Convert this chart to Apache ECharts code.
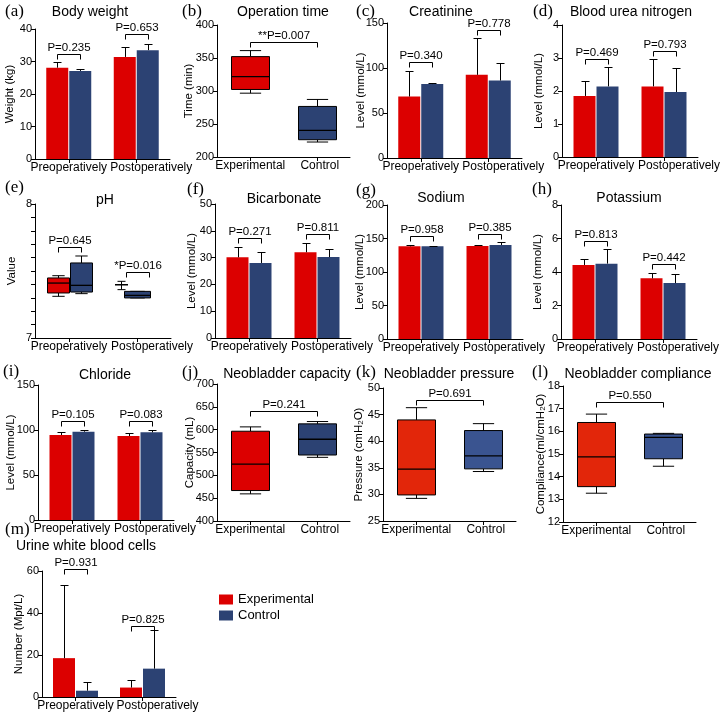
<!DOCTYPE html>
<html><head><meta charset="utf-8">
<script src="https://cdn.jsdelivr.net/npm/echarts@6/dist/echarts.min.js"></script>
<style>html,body{margin:0;padding:0;background:#fff}#c{width:722px;height:718px}</style>
</head><body><div id="c"></div>
<script>
// ---------- DATA ----------
const prePost = ['Preoperatively', 'Postoperatively'];
const groups = ['Experimental', 'Control'];
const legendNames = ['Experimental', 'Control'];

// (a) Body weight
const weightExpMean = [28.1, 31.4], weightExpSD = [1.8, 3.1];
const weightCtrlMean = [27.1, 33.5], weightCtrlSD = [0.5, 2.0];
const weightP = ['P=0.235', 'P=0.653'], weightBracket = [32.4, 38.4];
const weightTicks = [0, 40, 10];

// (b) Operation time  [min, Q1, median, Q3, max]
const opExpBox = [296.7, 302.3, 321.9, 352.1, 361.2];
const opCtrlBox = [222.7, 226.2, 240.3, 276.6, 287.2];
const opP = ['**P=0.007'], opBracket = [374.8];
const opTicks = [200, 400, 50];

// (c) Creatinine
const creaExpMean = [68.3, 92.4], creaExpSD = [28.2, 40.5];
const creaCtrlMean = [82.1, 86.1], creaCtrlSD = [1.4, 19.3];
const creaP = ['P=0.340', 'P=0.778'], creaBracket = [106.2, 141.8];
const creaTicks = [0, 150, 50];

// (d) Blood urea nitrogen
const bunExpMean = [1.85, 2.14], bunExpSD = [0.44, 0.82];
const bunCtrlMean = [2.14, 1.97], bunCtrlSD = [0.58, 0.72];
const bunP = ['P=0.469', 'P=0.793'], bunBracket = [2.96, 3.22];
const bunTicks = [0, 4, 1];

// (e) pH boxes [min, Q1, median, Q3, max] per period
const phExpBoxes = [[7.311, 7.336, 7.41, 7.448, 7.465], [7.361, 7.398, 7.398, 7.398, 7.423]];
const phCtrlBoxes = [[7.331, 7.343, 7.393, 7.56, 7.612], [7.299, 7.299, 7.318, 7.348, 7.348]];
const phP = ['P=0.645', '*P=0.016'], phBracket = [7.677, 7.493];
const phTicks = [7, 8, 0.1];

// (f) Bicarbonate
const bicExpMean = [30.1, 32.0], bicExpSD = [3.7, 3.4];
const bicCtrlMean = [28.0, 30.2], bicCtrlSD = [4.1, 3.1];
const bicP = ['P=0.271', 'P=0.811'], bicBracket = [37.3, 38.8];
const bicTicks = [0, 50, 10];

// (g) Sodium
const naExpMean = [138.3, 138.8], naExpSD = [1.5, 1.0];
const naCtrlMean = [138.3, 140.3], naCtrlSD = [1.0, 4.0];
const naP = ['P=0.958', 'P=0.385'], naBracket = [153.7, 156.2];
const naTicks = [0, 200, 50];

// (h) Potassium
const kExpMean = [4.42, 3.62], kExpSD = [0.36, 0.30];
const kCtrlMean = [4.50, 3.34], kCtrlSD = [0.85, 0.52];
const kP = ['P=0.813', 'P=0.442'], kBracket = [5.87, 4.46];
const kTicks = [0, 8, 2];

// (i) Chloride
const clExpMean = [94.4, 93.3], clExpSD = [3.0, 3.0];
const clCtrlMean = [98.1, 97.4], clCtrlSD = [1.9, 2.2];
const clP = ['P=0.105', 'P=0.083'], clBracket = [110, 110];
const clTicks = [0, 150, 50];

// (j) Neobladder capacity
const capExpBox = [459.4, 466.7, 524.7, 596.6, 606.1];
const capCtrlBox = [539.4, 544.5, 579.0, 612.7, 617.8];
const capP = ['P=0.241'], capBracket = [641.3];
const capTicks = [400, 700, 50];

// (k) Neobladder pressure
const presExpBox = [29.25, 29.9, 34.75, 44.0, 46.3];
const presCtrlBox = [34.3, 34.8, 37.25, 42.0, 43.3];
const presP = ['P=0.691'], presBracket = [47.7];
const presTicks = [25, 50, 5];

// (l) Neobladder compliance
const compExpBox = [13.27, 13.56, 14.87, 16.39, 16.76];
const compCtrlBox = [14.46, 14.79, 15.73, 15.88, 15.91];
const compP = ['P=0.550'], compBracket = [17.31];
const compTicks = [12, 18, 1];

// (m) Urine white blood cells
const wbcExpMean = [18.5, 4.5], wbcExpSD = [35, 3.5];
const wbcCtrlMean = [3.0, 13.5], wbcCtrlSD = [4.0, 18.5];
const wbcP = ['P=0.931', 'P=0.825'], wbcBracket = [61, 34];
const wbcTicks = [0, 60, 20];

// ---------- STYLE ----------
const RED = '#dc0000', BLUE = '#2c4273';
const RED2 = '#e2260a', BLUE2 = '#3a5490';
const FONT = '"Liberation Sans", Arial, sans-serif';
const SERIF = '"Liberation Serif", "Times New Roman", serif';
const OFF = 11.5;

const grids = [], xAxes = [], yAxes = [], series = [], graphics = [];

function addAxes(g, cats, ticks, yname, nameGap, fmt, shiftSecond) {
  const i = grids.length;
  grids.push(Object.assign({ outerBoundsMode: 'none', containLabel: false }, g));
  xAxes.push({
    gridIndex: i, type: 'category', data: cats, boundaryGap: true,
    axisLine: { show: true, lineStyle: { color: '#000', width: 1 } },
    axisTick: { show: true, alignWithLabel: true, interval: 0, length: 4, lineStyle: { color: '#000' } },
    axisLabel: { color: '#000', fontSize: 12, fontFamily: FONT, margin: 3, interval: 0,
      formatter: (v, idx) => (idx === 1 && shiftSecond ? '{s|' + v + '}' : v),
      rich: { s: { color: '#000', fontSize: 12, fontFamily: FONT, padding: [0, 0, 0, shiftSecond || 0] } } },
    splitLine: { show: false }
  });
  yAxes.push({
    gridIndex: i, type: 'value', min: ticks[0], max: ticks[1], interval: ticks[2],
    name: yname, nameLocation: 'middle', nameGap: nameGap, nameMoveOverlap: false,
    nameTextStyle: { color: '#000', fontSize: 11.5, fontFamily: FONT,
      rich: { sub: { fontSize: 8, fontFamily: FONT, color: '#000', verticalAlign: 'bottom', padding: [4, 0, 0, 0] } } },
    axisLine: { show: true, lineStyle: { color: '#000', width: 1 } },
    axisTick: { show: true, length: 4, lineStyle: { color: '#000' } },
    axisLabel: { color: '#000', fontSize: 11, fontFamily: FONT, margin: 3, formatter: fmt },
    splitLine: { show: false }
  });
  return i;
}

function errSeries(i, mean, sd, off) {
  return {
    type: 'custom', xAxisIndex: i, yAxisIndex: i, silent: true, z: 3,
    data: mean.map((m, k) => [k, m, m + sd[k]]),
    encode: { x: 0, y: [1, 2] },
    renderItem: (p, api) => {
      const a = api.coord([api.value(0), api.value(1)]);
      const b = api.coord([api.value(0), api.value(2)]);
      const x = Math.round(a[0] + off) + 0.5;
      const yb = Math.round(b[1]) + 0.5;
      return { type: 'group', children: [
        { type: 'line', shape: { x1: x, y1: a[1], x2: x, y2: yb }, style: { stroke: '#000', lineWidth: 1 } },
        { type: 'line', shape: { x1: x - 4, y1: yb, x2: x + 4, y2: yb }, style: { stroke: '#000', lineWidth: 1 } }
      ] };
    }
  };
}

function bracketSeries(i, ys, labels, mode) {
  return {
    type: 'custom', xAxisIndex: i, yAxisIndex: i, silent: true, clip: false, z: 4,
    data: ys.map((y, k) => [k, y]),
    encode: { x: 0, y: 1 },
    renderItem: (p, api) => {
      const k = api.value(0);
      const c = api.coord([k, api.value(1)]);
      let x1, x2;
      if (mode === 'pair') { x1 = c[0] - OFF; x2 = c[0] + OFF; }
      else { x1 = c[0]; x2 = api.coord([k + 1, api.value(1)])[0]; }
      x1 = Math.round(x1) + 0.5; x2 = Math.round(x2) + 0.5;
      const y = Math.round(c[1]) + 0.5;
      return { type: 'group', children: [
        { type: 'polyline', shape: { points: [[x1, y + 5], [x1, y], [x2, y], [x2, y + 5]] },
          style: { stroke: '#000', fill: null, lineWidth: 1 } },
        { type: 'text', x: (x1 + x2) / 2, y: y - 1,
          style: { text: labels[p.dataIndex], fill: '#000', font: '11.5px ' + FONT, align: 'center', verticalAlign: 'bottom' } }
      ] };
    }
  };
}

// offs / widths: per-box pixel offset from the category centre and box width (styling)
function boxSeries(i, name, cats, boxes, offs, widths, color) {
  return {
    type: 'custom', name: name, xAxisIndex: i, yAxisIndex: i, z: 2,
    itemStyle: { color: color },
    data: boxes.map((b, k) => [cats[k]].concat(b)),
    encode: { x: 0, y: [1, 2, 3, 4, 5] },
    renderItem: (p, api) => {
      const c = api.value(0);
      const off = offs[p.dataIndex], w = widths[p.dataIndex];
      const yMin = api.coord([c, api.value(1)])[1];
      const yQ1 = api.coord([c, api.value(2)])[1];
      const yMed = api.coord([c, api.value(3)])[1];
      const yQ3 = api.coord([c, api.value(4)])[1];
      const yMax = api.coord([c, api.value(5)])[1];
      const cx = Math.round(api.coord([c, api.value(3)])[0] + off) + 0.5;
      const hw = w / 2, cw = Math.max(w * 0.28, 4);
      const L = (x1, y1, x2, y2) => ({ type: 'line', shape: { x1, y1, x2, y2 }, style: { stroke: '#000', lineWidth: 1 } });
      return { type: 'group', children: [
        L(cx, yMax, cx, yQ3), L(cx, yQ1, cx, yMin),
        L(cx - cw, yMax, cx + cw, yMax), L(cx - cw, yMin, cx + cw, yMin),
        { type: 'rect', shape: { x: cx - hw, y: yQ3, width: w, height: Math.max(yQ1 - yQ3, 0) },
          style: { fill: color, stroke: '#000', lineWidth: 1 } },
        { type: 'line', shape: { x1: cx - hw, y1: yMed, x2: cx + hw, y2: yMed }, style: { stroke: '#000', lineWidth: 1.3 } }
      ] };
    }
  };
}

function barPanel(g, ticks, yname, gap, expMean, expSD, ctrlMean, ctrlSD, pLab, brY) {
  const i = addAxes(g, prePost, ticks, yname, gap, undefined, 30);
  series.push({ type: 'bar', name: legendNames[0], xAxisIndex: i, yAxisIndex: i, data: expMean,
    barWidth: 22, barGap: '4.5%', itemStyle: { color: RED }, z: 2, silent: true });
  series.push({ type: 'bar', name: legendNames[1], xAxisIndex: i, yAxisIndex: i, data: ctrlMean,
    barWidth: 22, barGap: '4.5%', itemStyle: { color: BLUE }, z: 2, silent: true });
  series.push(errSeries(i, expMean, expSD, -OFF));
  series.push(errSeries(i, ctrlMean, ctrlSD, OFF));
  series.push(bracketSeries(i, brY, pLab, 'pair'));
}

function twoBoxPanel(g, ticks, yname, gap, expBox, ctrlBox, pLab, brY, cr, cb) {
  const i = addAxes(g, groups, ticks, yname, gap, undefined, 6);
  series.push(boxSeries(i, legendNames[0], [0], [expBox], [0], [38], cr));
  series.push(boxSeries(i, legendNames[1], [1], [ctrlBox], [0], [38], cb));
  series.push(bracketSeries(i, brY, pLab, 'span'));
}

// ---------- PANELS ----------
barPanel({ left: 35, top: 29, width: 135, height: 130 }, weightTicks, 'Weight (kg)', 19,
  weightExpMean, weightExpSD, weightCtrlMean, weightCtrlSD, weightP, weightBracket);
twoBoxPanel({ left: 217, top: 25, width: 133, height: 132 }, opTicks, 'Time (min)', 22,
  opExpBox, opCtrlBox, opP, opBracket, RED, BLUE);
barPanel({ left: 387, top: 23, width: 135, height: 135 }, creaTicks, 'Level (mmol/L)', 20,
  creaExpMean, creaExpSD, creaCtrlMean, creaCtrlSD, creaP, creaBracket);
barPanel({ left: 562, top: 25, width: 136, height: 132 }, bunTicks, 'Level (mmol/L)', 17,
  bunExpMean, bunExpSD, bunCtrlMean, bunCtrlSD, bunP, bunBracket);

// (e) pH
(function () {
  const i = addAxes({ left: 35, top: 204, width: 136, height: 134 }, prePost, phTicks, 'Value', 17,
    v => (Math.abs(v - Math.round(v)) < 1e-6 ? String(Math.round(v)) : ''), 30);
  series.push(boxSeries(i, legendNames[0], [0, 1], phExpBoxes, [-OFF, -16], [22, 13], RED));
  series.push(boxSeries(i, legendNames[1], [0, 1], phCtrlBoxes, [OFF, 0], [22, 26], BLUE));
  series.push(bracketSeries(i, phBracket, phP, 'pair'));
})();

barPanel({ left: 215, top: 204, width: 136, height: 134 }, bicTicks, 'Level (mmol/L)', 17,
  bicExpMean, bicExpSD, bicCtrlMean, bicCtrlSD, bicP, bicBracket);
barPanel({ left: 387, top: 205, width: 136, height: 134 }, naTicks, 'Level (mmol/L)', 21,
  naExpMean, naExpSD, naCtrlMean, naCtrlSD, naP, naBracket);
barPanel({ left: 561, top: 205, width: 136, height: 134 }, kTicks, 'Level (mmol/L)', 17,
  kExpMean, kExpSD, kCtrlMean, kCtrlSD, kP, kBracket);
barPanel({ left: 38, top: 385, width: 136, height: 135 }, clTicks, 'Level (mmol/L)', 21,
  clExpMean, clExpSD, clCtrlMean, clCtrlSD, clP, clBracket);
twoBoxPanel({ left: 217, top: 384, width: 133, height: 137 }, capTicks, 'Capacity (mL)', 21,
  capExpBox, capCtrlBox, capP, capBracket, RED, BLUE);
twoBoxPanel({ left: 383, top: 388, width: 133, height: 133 }, presTicks, 'Pressure (cmH{sub|2}O)', 18,
  presExpBox, presCtrlBox, presP, presBracket, RED2, BLUE2);
twoBoxPanel({ left: 563, top: 386, width: 133, height: 136 }, compTicks, 'Compliance(ml/cmH{sub|2}O)', 16,
  compExpBox, compCtrlBox, compP, compBracket, RED2, BLUE2);
barPanel({ left: 42, top: 571, width: 134, height: 126 }, wbcTicks, 'Number (Mpt/L)', 17,
  wbcExpMean, wbcExpSD, wbcCtrlMean, wbcCtrlSD, wbcP, wbcBracket);

// ---------- TITLES & PANEL LETTERS ----------
const panelTitles = [
  ['(a)', 5, 12, 'Body weight', 90, 12],
  ['(b)', 182, 12, 'Operation time', 283, 12],
  ['(c)', 356, 12, 'Creatinine', 441, 12],
  ['(d)', 533, 12, 'Blood urea nitrogen', 631, 12],
  ['(e)', 5, 188, 'pH', 105, 200],
  ['(f)', 187, 190, 'Bicarbonate', 284, 199],
  ['(g)', 356, 191, 'Sodium', 441, 198],
  ['(h)', 532, 190, 'Potassium', 629, 198],
  ['(i)', 3, 372, 'Chloride', 105, 375],
  ['(j)', 182, 373, 'Neobladder capacity', 287, 374],
  ['(k)', 356, 373, 'Neobladder pressure', 449, 374],
  ['(l)', 532, 373, 'Neobladder compliance', 638, 374],
  ['(m)', 5, 530, 'Urine white blood cells', 86, 546]
];
panelTitles.forEach(t => {
  graphics.push({ type: 'text', x: t[1], y: t[2], silent: true,
    style: { text: t[0], fill: '#000', font: '17px ' + SERIF, align: 'left', verticalAlign: 'middle' } });
  graphics.push({ type: 'text', x: t[4], y: t[5], silent: true,
    style: { text: t[3], fill: '#000', font: '14px ' + FONT, align: 'center', verticalAlign: 'middle' } });
});

const chart = echarts.init(document.getElementById('c'), null, { renderer: 'canvas' });
chart.setOption({
  animation: false,
  backgroundColor: '#fff',
  textStyle: { fontFamily: FONT },
  grid: grids, xAxis: xAxes, yAxis: yAxes, series: series,
  legend: {
    data: legendNames, orient: 'vertical', left: 214, top: 588, itemWidth: 14, itemHeight: 10, itemGap: 3,
    icon: 'rect', selectedMode: false, textStyle: { fontSize: 13, fontFamily: FONT, color: '#000' }
  },
  graphic: graphics
});
</script></body></html>
